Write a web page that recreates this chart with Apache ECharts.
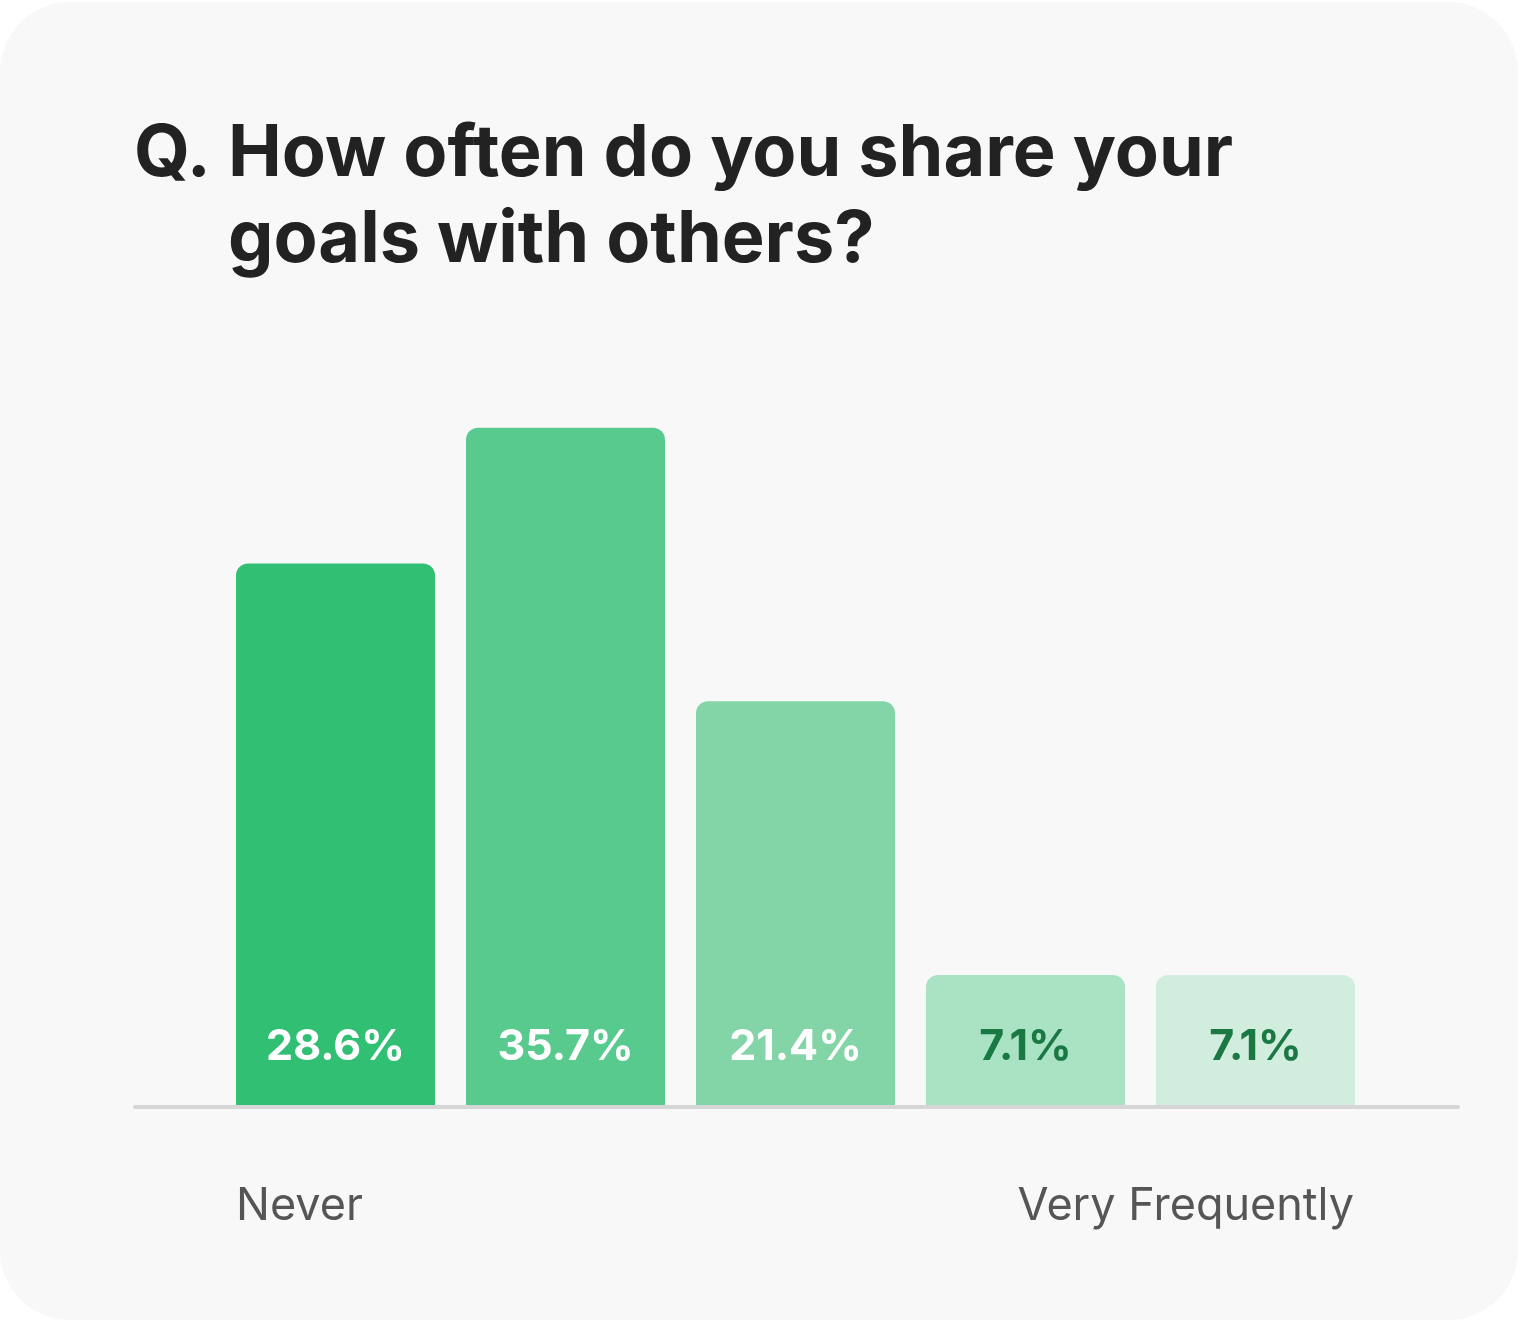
<!DOCTYPE html>
<html>
<head>
<meta charset="utf-8">
<script src="https://cdn.jsdelivr.net/npm/echarts@6/dist/echarts.min.js"></script>
<style>
  html, body { margin: 0; padding: 0; background: #ffffff; }
  #card { position: absolute; left: 0; top: 2px; width: 1518px; height: 1318px; background: #f8f8f8; border-radius: 70px; }
  #chart { position: absolute; left: 0; top: 0; width: 1518px; height: 1321px; }
</style>
</head>
<body>
<div id="card"></div>
<div id="chart"></div>
<script>
const categories = ['Never', '', '', '', 'Very Frequently'];
const values = [28.6, 35.7, 21.4, 7.1, 7.1];
const barColors = ['#31bf74', '#58ca8e', '#83d5a7', '#aae2c4', '#d1edde'];
const labelColors = ['#ffffff', '#ffffff', '#ffffff', '#1a7843', '#1a7843'];
const titlePrefix = 'Q.';
const titleText = 'How often do you share your\ngoals with others?';

const chart = echarts.init(document.getElementById('chart'), null, { renderer: 'canvas' });

const option = {
  backgroundColor: 'transparent',
  animation: false,
  title: [
    { text: titlePrefix, left: 134, top: 111, padding: 0,
      textStyle: { fontFamily: 'Inter', fontWeight: 700, fontSize: 72, lineHeight: 86, color: '#222222' } },
    { text: titleText, left: 228, top: 111, padding: 0,
      textStyle: { fontFamily: 'Inter', fontWeight: 700, fontSize: 72, lineHeight: 86, color: '#222222' } }
  ],
  grid: [
    { left: 220.5, width: 1150, top: 345.5, height: 759.5 },
    { left: 135, right: 60, top: 345.5, height: 761.5 }
  ],
  xAxis: [
    {
      type: 'category', gridIndex: 0, data: categories,
      axisLine: { show: false }, axisTick: { show: false },
      axisLabel: {
        interval: 0, margin: 79,
        formatter: function (v, i) {
          if (!v) return '';
          return i === 0 ? '{l|' + v + '}' : '{r|' + v + '}';
        },
        rich: {
          l: { width: 199, align: 'left', fontFamily: 'Inter', fontSize: 45, lineHeight: 45, color: '#555555' },
          r: { width: 197, align: 'right', fontFamily: 'Inter', fontSize: 45, lineHeight: 45, color: '#555555' }
        }
      }
    },
    {
      type: 'value', gridIndex: 1, min: 0, max: 1,
      axisLine: { show: true, lineStyle: { color: '#d6d6d6', width: 4 } },
      axisTick: { show: false }, axisLabel: { show: false }, splitLine: { show: false }
    }
  ],
  yAxis: [
    { type: 'value', gridIndex: 0, min: 0.3, max: 40, show: false, splitLine: { show: false } },
    { type: 'value', gridIndex: 1, min: 0, max: 1, show: false, splitLine: { show: false } }
  ],
  series: [
    {
      type: 'bar', xAxisIndex: 0, yAxisIndex: 0, barWidth: 199, clip: true,
      data: values.map(function (v, i) {
        return {
          value: v,
          itemStyle: { color: barColors[i], borderRadius: [12, 12, 0, 0] },
          label: { color: labelColors[i] }
        };
      }),
      label: {
        show: true, position: 'insideBottom', distance: 36,
        formatter: function (p) { return p.value + '%'; },
        fontFamily: 'Inter', fontWeight: 700, fontSize: 43, lineHeight: 43
      }
    }
  ]
};
chart.setOption(option);
</script>
</body>
</html>
